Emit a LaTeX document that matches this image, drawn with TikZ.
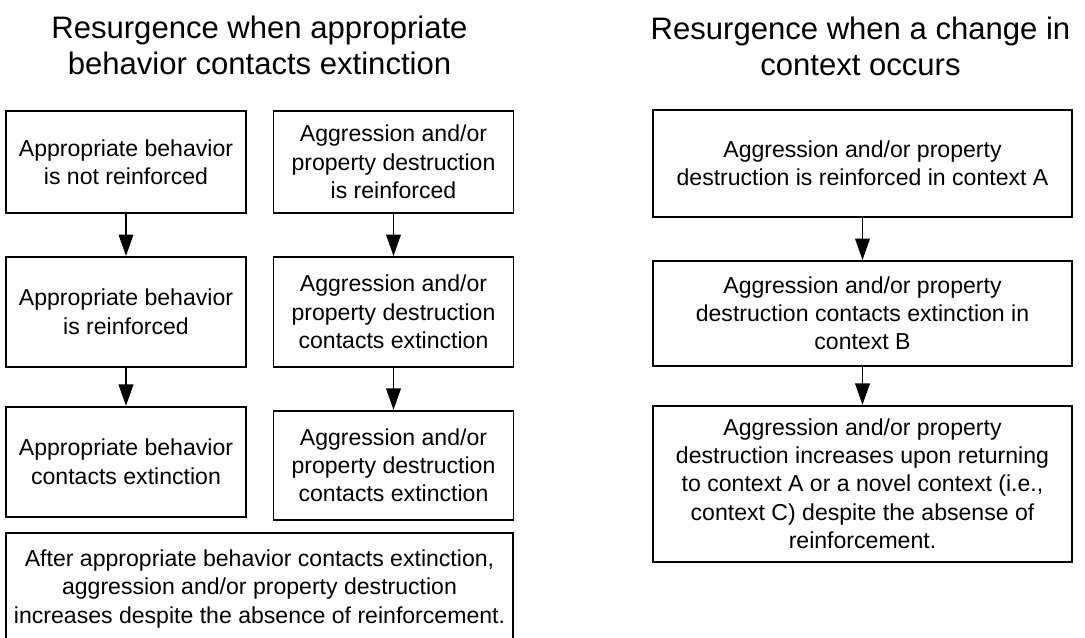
\documentclass[tikz,border=0pt]{standalone}
\usepackage{fontspec}
\setmainfont{Liberation Sans}
\usetikzlibrary{arrows.meta,positioning}

\begin{document}
\begin{tikzpicture}[
  x=0.75pt, y=-0.75pt,
  node distance=31.5pt,
  box/.style={draw, line width=1.4pt, align=center, inner sep=2pt, font=\fontsize{17.3}{21.2}\selectfont},
  colbox/.style={box, minimum width=180pt, minimum height=82.5pt},
  widebox/.style={box, minimum width=314.25pt},
  title/.style={align=center, font=\fontsize{23.3}{27}\selectfont},
  arr/.style={-{Triangle[length=16pt,width=11pt]}, line width=1.1pt}
]
\clip (0,0) rectangle (1085,637);

% left part
\node[title] (tleft) at (259.5,45) {Resurgence when appropriate\\behavior contacts extinction};
\node[colbox, minimum height=76.5pt] (a1) at (126,162) {Appropriate behavior\\is not reinforced};
\node[colbox, below=of a1] (a2) {Appropriate behavior\\is reinforced};
\node[colbox, below=28.5pt of a2] (a3) {Appropriate behavior\\contacts extinction};
\node[colbox, minimum height=76.5pt] (p1) at (393.5,162) {Aggression and/or\\property destruction\\is reinforced};
\node[colbox, below=of p1] (p2) {Aggression and/or\\property destruction\\contacts extinction};
\node[colbox, minimum height=81.75pt, below=of p2] (p3) {Aggression and/or\\property destruction\\contacts extinction};
\node[box, minimum width=380.25pt, minimum height=84pt] (res) at (259.5,589) {After appropriate behavior contacts extinction,\\aggression and/or property destruction\\increases despite the absence of reinforcement.};
\draw[arr] (a1) -- (a2);
\draw[arr] (a2) -- (a3);
\draw[arr] (p1) -- (p2);
\draw[arr] (p2) -- (p3);

% right part
\node[title] (tright) at (860.5,46) {Resurgence when a change in\\context occurs};
\node[widebox, minimum height=80.25pt] (c1) at (862.5,163.5) {Aggression and/or property\\destruction is reinforced in context A};
\node[widebox, minimum height=78.75pt, below=of c1] (c2) {Aggression and/or property\\destruction contacts extinction in\\context B};
\node[widebox, minimum height=117pt, below=28.5pt of c2] (c3) {Aggression and/or property\\destruction increases upon returning\\to context A or a novel context (i.e.,\\context C) despite the absense of\\reinforcement.};
\draw[arr] (c1) -- (c2);
\draw[arr] (c2) -- (c3);
\end{tikzpicture}
\end{document}
